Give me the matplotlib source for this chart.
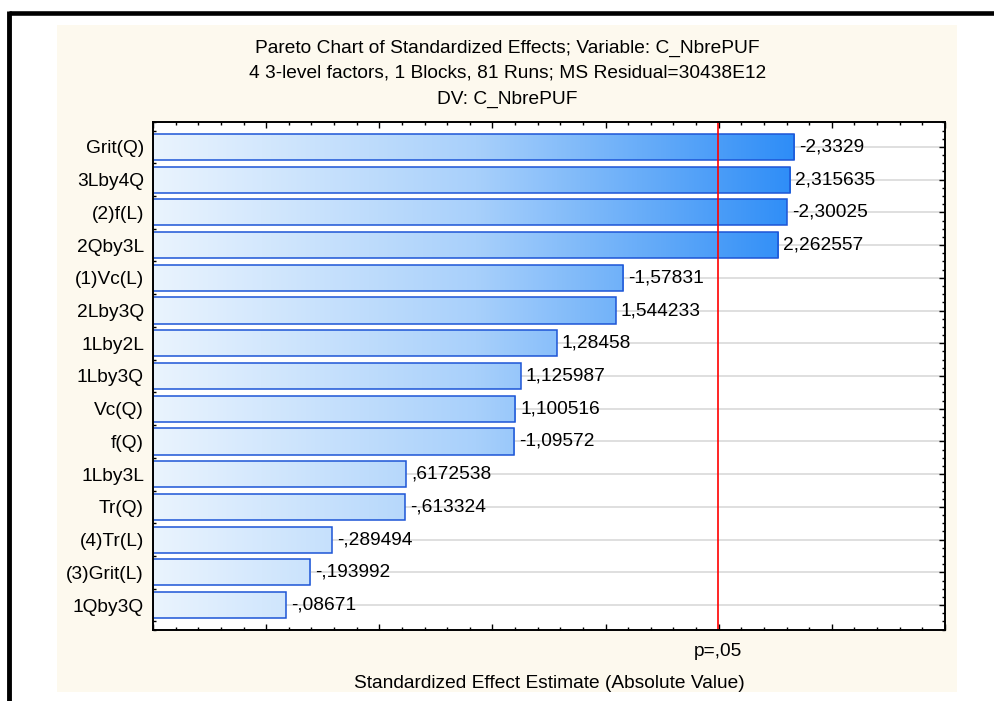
import numpy as np
import matplotlib
matplotlib.use("Agg")
import matplotlib.pyplot as plt
from matplotlib.lines import Line2D
from matplotlib.patches import Rectangle
from matplotlib.colors import LinearSegmentedColormap
from matplotlib.ticker import MultipleLocator, AutoMinorLocator, NullFormatter
import matplotlib.transforms as mtransforms

plt.rcParams['font.family'] = ['Liberation Sans', 'DejaVu Sans']

# ---------------- data ----------------
effects = ["Grit(Q)", "3Lby4Q", "(2)f(L)", "2Qby3L", "(1)Vc(L)", "2Lby3Q", "1Lby2L",
           "1Lby3Q", "Vc(Q)", "f(Q)", "1Lby3L", "Tr(Q)", "(4)Tr(L)", "(3)Grit(L)", "1Qby3Q"]
estimates = [-2.3329, 2.315635, -2.30025, 2.262557, -1.57831, 1.544233, 1.28458,
             1.125987, 1.100516, -1.09572, 0.6172538, -0.613324, -0.289494, -0.193992, -0.08671]
t_crit = 1.997          # p = .05
x_range = (-0.5, 3.0)

title_lines = ["Pareto Chart of Standardized Effects; Variable: C_NbrePUF",
               "4 3-level factors, 1 Blocks, 81 Runs; MS Residual=30438E12",
               "DV: C_NbrePUF"]

FS = 13.8


def fmt(v):
    # Statistica style: comma decimal, no leading zero
    s = f"{v}".replace(".", ",")
    s = s.replace("-0,", "-,")
    if s.startswith("0,"):
        s = s[1:]
    return s


W, H = 994, 701
fig = plt.figure(figsize=(W / 100, H / 100), dpi=100)
fig.patch.set_facecolor("white")

# cream background panel + black frame
fig.add_artist(Rectangle((57 / W, 1 - 692 / H), 900 / W, 667 / H, transform=fig.transFigure,
                         facecolor="#fdf9ee", edgecolor="none", zorder=0))
fig.add_artist(Line2D([8.5 / W, 1.0], [1 - 13 / H, 1 - 13 / H], transform=fig.transFigure,
                      color="black", lw=3.3, solid_capstyle="butt"))
fig.add_artist(Line2D([8.5 / W, 8.5 / W], [0, 1 - 11 / H], transform=fig.transFigure,
                      color="black", lw=3.5, solid_capstyle="butt"))

ax = fig.add_axes([153 / W, 1 - 630 / H, 792 / W, 508 / H])
ax.set_facecolor("white")

y = np.arange(len(effects))
absvals = np.abs(np.array(estimates))

# grid lines behind bars
for yi in y:
    ax.axhline(yi, color="#d9d9d9", lw=1.2, zorder=1)

cmap = LinearSegmentedColormap.from_list("bl", ["#eaf4fe", "#a8d0fb", "#2c8cf7"])
grad = np.linspace(0, 1, 256).reshape(1, -1)
grad_end = absvals.max() + 0.02

bars = ax.barh(y, absvals - x_range[0], left=x_range[0], height=0.8,
               facecolor="none", edgecolor="#1d55d6", lw=1.1, zorder=4)
for b in bars:
    im = ax.imshow(grad, extent=(x_range[0], grad_end, -1, len(effects)), aspect="auto",
                   cmap=cmap, zorder=3, interpolation="bilinear")
    im.set_clip_path(b)

for yi, v, a in zip(y, estimates, absvals):
    ax.annotate(fmt(v), (a, yi), xytext=(3.6, 0), textcoords="offset points",
                va="center", ha="left", fontsize=FS, zorder=5)

ax.axvline(t_crit, color="red", lw=1.2, zorder=6)

ax.set_xlim(*x_range)
ax.set_ylim(len(effects) - 1 + 0.76, -0.76)

ax.set_yticks(y)
ax.set_yticklabels(effects, fontsize=FS)
ax.yaxis.set_minor_locator(AutoMinorLocator(4))
ax.xaxis.set_major_locator(MultipleLocator(0.5))
ax.xaxis.set_minor_locator(MultipleLocator(0.1))
ax.xaxis.set_major_formatter(NullFormatter())
ax.tick_params(which="both", direction="in", top=True, right=True, width=1.0, color="black")
ax.tick_params(which="major", length=4)
ax.tick_params(which="minor", length=2.2)
ax.tick_params(axis="y", which="major", pad=6.5)
for sp in ax.spines.values():
    sp.set_linewidth(1.4)
    sp.set_zorder(7)

trans = mtransforms.blended_transform_factory(ax.transData, ax.transAxes)
ax.text(t_crit, -21 / 508, "p=,05", transform=trans, ha="center", va="center", fontsize=FS)

fig.text(549 / W, 1 - 683 / H, "Standardized Effect Estimate (Absolute Value)",
         ha="center", va="center", fontsize=FS)
for i, line in enumerate(title_lines):
    fig.text(507.5 / W, 1 - (48 + 25.5 * i) / H, line, ha="center", va="center", fontsize=FS)

fig.savefig("out.png", dpi=100)
